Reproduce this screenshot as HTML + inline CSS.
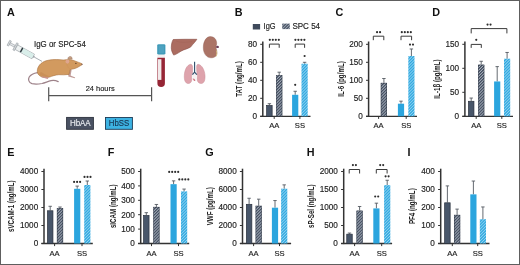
<!DOCTYPE html><html><head><meta charset="utf-8"><style>html,body{margin:0;padding:0;background:#fff;}body{width:520px;height:265px;overflow:hidden;font-family:"Liberation Sans",sans-serif;}svg{display:block;will-change:transform;}</style></head><body><svg width="520" height="265" viewBox="0 0 520 265" font-family="Liberation Sans, sans-serif">
<defs><pattern id="hd" width="2.1" height="2.1" patternUnits="userSpaceOnUse" patternTransform="rotate(45)"><rect width="2.1" height="2.1" fill="#b2bac6"/><rect width="1.25" height="2.1" fill="#3f4a5c"/></pattern><pattern id="hb" width="2.1" height="2.1" patternUnits="userSpaceOnUse" patternTransform="rotate(45)"><rect width="2.1" height="2.1" fill="#9ad8f4"/><rect width="1.25" height="2.1" fill="#2ba5de"/></pattern></defs>
<rect x="0" y="0" width="520" height="265" fill="#fff"/>
<text x="7" y="15.6" font-size="10.8" text-anchor="start" font-weight="bold" fill="#111" >A</text>
<text x="34" y="46.8" font-size="8.4" text-anchor="start" font-weight="normal" fill="#222" stroke="#222" stroke-width="0.15" textLength="51.8" lengthAdjust="spacingAndGlyphs" >IgG or SPC-54</text>
<path d="M48.7 87.3V101.2M48.7 95.6H151.6M151.6 87.3V101.2" fill="none" stroke="#555" stroke-width="1.2"/>
<text x="85.7" y="91" font-size="8.0" text-anchor="start" font-weight="normal" fill="#222" stroke="#222" stroke-width="0.15" textLength="29" lengthAdjust="spacingAndGlyphs" >24 hours</text>
<rect x="66.6" y="117.4" width="26.8" height="11.9" fill="#4a5263" stroke="#2c323d" stroke-width="0.9"/>
<text x="80.3" y="126.2" font-size="8.3" text-anchor="middle" font-weight="normal" fill="#e8ebf0" stroke="#e8ebf0" stroke-width="0.15" textLength="20.8" lengthAdjust="spacingAndGlyphs" >HbAA</text>
<rect x="105.5" y="117.5" width="26.9" height="11.8" fill="#3db3e3" stroke="#1b3a55" stroke-width="0.9"/>
<text x="119" y="126.2" font-size="8.3" text-anchor="middle" font-weight="normal" fill="#173552" stroke="#173552" stroke-width="0.15" textLength="20.4" lengthAdjust="spacingAndGlyphs" >HbSS</text>
<g transform="translate(9.2 43.2) rotate(29)"><rect x="-0.9" y="-2.8" width="1.8" height="5.6" fill="#d5d9dc" stroke="#8d949a" stroke-width="0.5"/><rect x="0.9" y="-1" width="5.6" height="2" fill="#e4e7e9" stroke="#8d949a" stroke-width="0.5"/><rect x="6.4" y="-4" width="1.8" height="8" fill="#d5d9dc" stroke="#8d949a" stroke-width="0.5"/><rect x="8.2" y="-2.6" width="19.2" height="5.2" fill="#eef2f2" stroke="#8d949a" stroke-width="0.55"/><rect x="14.8" y="-2.3" width="12.3" height="4.6" fill="#d9eeea"/><rect x="13.4" y="-2.4" width="1.5" height="4.8" fill="#2f3b41"/><path d="M27.4 -1.3 L29 -0.6 V0.6 L27.4 1.3 Z" fill="#9aa1a7"/><line x1="29" y1="0" x2="37.5" y2="0" stroke="#7d868e" stroke-width="0.6"/></g>
<g><path d="M37.6 72.6 C35 73 31 74.2 29.2 77 C27.8 79.5 28.8 82.6 32 83.7 C35 84.4 39 84.1 42 83.5 C45 82.8 48 81.4 51 80.7 C53.5 80.2 56 80.6 58.2 81.6" fill="none" stroke="#9e838a" stroke-width="1.25" stroke-linecap="round"/><path d="M70 69 L68.4 74 L68.3 76.6 L74.8 78.3 L75.2 77.4 L70.6 75.6 L71.6 70 Z" fill="#c09c98"/><path d="M37.3 71.2 C37.3 66.5 40.8 62.4 46 60.8 C50 59.6 55 59.4 60 59.7 C62.5 59.9 64.5 60.1 66.2 59.8 C69 59.3 72 59.6 75 61 C77.5 62 80 62.8 82 63.7 C82.4 64.5 81.6 65.3 80.2 65.8 C78.6 66.8 77 67.8 75.5 68.3 C73.6 68.9 71.6 69.3 70.2 69.6 C69.6 71.5 69.4 73 69 74.4 C65.5 74.8 62 75 58.8 74.7 C55.2 75 52.2 76 49.6 77.1 C46.2 78 42.4 77.6 40.2 76.1 C38.2 74.8 37.3 73.2 37.3 71.2 Z" fill="#d29a5f" stroke="#a9723f" stroke-width="0.6"/><path d="M39.5 74.5 C42 76.8 46 77.2 49.6 76.6 C47 75 44 74 41 72 C40 72.5 39.6 73.4 39.5 74.5 Z" fill="#c58a52" opacity="0.6"/><path d="M42 76.2 L41.6 77.2 L47.6 78.9 L48.8 77.6 Z" fill="#c8928a"/><path d="M66.2 59.8 C66.5 64 67.2 67 70.2 69.6" fill="none" stroke="#c48a54" stroke-width="0.4" opacity="0.7"/><path d="M67.9 59 C67.8 57.3 69 56.4 70.3 56.5 C71.6 56.6 72.3 57.6 72.1 59 Z" fill="#c79f82" stroke="#9a7a66" stroke-width="0.5"/><ellipse cx="67.4" cy="61.6" rx="1.9" ry="2.1" fill="#e3aa9d" opacity="0.75"/><circle cx="75.9" cy="63.3" r="0.65" fill="#4a2a18"/><circle cx="82" cy="64.4" r="0.6" fill="#7a6060"/></g>
<g><rect x="157.2" y="44.2" width="8.2" height="10.5" rx="1.4" fill="#3f9ab8"/><rect x="158.6" y="45.6" width="5.4" height="7.6" rx="1" fill="#58a9c4" opacity="0.6"/><rect x="157.4" y="54.7" width="7.6" height="3" fill="#f3f1f1"/><path d="M157.4 57.7 H164.9 V83.3 A3.75 3.75 0 0 1 157.4 83.3 Z" fill="#962636"/><path d="M157.9 59.2 H161.4 V79.9 H157.9 Z" fill="#f1eaea"/><path d="M157.5 59.2 V80" stroke="#c98a92" stroke-width="0.6"/></g>
<path d="M173.2 39.5 C181 39.3 189 39.2 196.9 39.3 C195.5 41.5 193.8 43.4 192.4 44.8 C191.6 45.8 191.1 46.6 190.4 47.2 C188.2 48.4 185.8 49.2 183.6 49.9 C181.6 50.7 180.1 51.7 178.8 52.6 C177.1 53.7 175.4 54.6 173.7 55.1 C172.2 52.6 171.2 50 171.3 47.4 C171.4 44.2 172 41.5 173.2 39.5 Z" fill="#ab6c60" stroke="#864a41" stroke-width="0.6"/>
<path d="M176 41 C180 43 186 42.5 192 41.5" stroke="#9a5a4e" stroke-width="0.4" fill="none" opacity="0.6"/>
<path d="M210.3 36.6 C214.3 36.6 216.7 39.6 216.7 43.4 C216.7 45 216 45.9 216 47.1 C216 48.6 217 50.2 217 53 C217 56.1 214.5 57.8 211 57.8 C206.6 57.8 203.3 53.6 203.3 47.6 C203.3 41.2 206.4 36.6 210.3 36.6 Z" fill="#ab7466" stroke="#8f5c50" stroke-width="0.4"/>
<ellipse cx="217.5" cy="46.9" rx="1.4" ry="1.2" fill="#6b3d57"/>
<path d="M216.4 50.5 C216.9 52.5 216.7 55 216.1 56.5" stroke="#d9c485" stroke-width="0.8" fill="none"/>
<path d="M190.6 64.3 C186.8 65 184.6 70 184.3 75.5 C184.1 80 185.3 83.4 188 83.5 C190.3 83.6 191.6 82 191.8 79.5 C191.2 77.5 191.5 75.5 192.4 74 L192.6 67.5 C192.6 65.5 191.8 64.2 190.6 64.3 Z" fill="#dea3ac" stroke="#cb8d97" stroke-width="0.5"/>
<path d="M198.2 64.3 C202 65 204.6 70 205 75.5 C205.3 80 204.1 83.4 201.4 83.5 C199 83.6 197.4 82 197.2 79.5 L196.6 67.5 C196.6 65.5 197 64.2 198.2 64.3 Z" fill="#dea3ac" stroke="#cb8d97" stroke-width="0.5"/>
<path d="M191.8 74.5 C192.2 78 193.2 80.8 195 81.2 C196.5 81.5 197.3 78.5 197.2 75.5 C196 73.5 194 73 191.8 74.5 Z" fill="#f7f3f3"/>
<path d="M192.6 78.5 C193.2 80.3 194.2 81.3 195.2 81 C195.4 79.8 194.6 78.4 192.6 78.5 Z" fill="#cf7a86"/>
<path d="M194.6 61.8 V72.2 M194.6 72.2 L192.4 74.6 M194.6 72.2 L196.8 74.6" stroke="#2f4d6a" stroke-width="1.1" fill="none"/>
<rect x="252.8" y="24" width="7.3" height="5.5" fill="#3f4a5c"/>
<text x="263.6" y="29" font-size="8.2" text-anchor="start" font-weight="normal" fill="#222" stroke="#222" stroke-width="0.15" textLength="12" lengthAdjust="spacingAndGlyphs" >IgG</text>
<rect x="282.2" y="23.6" width="7.6" height="5.5" fill="url(#hd)"/>
<text x="292.4" y="28.9" font-size="8.4" text-anchor="start" font-weight="normal" fill="#222" stroke="#222" stroke-width="0.15" textLength="27.7" lengthAdjust="spacingAndGlyphs" >SPC 54</text>
<line x1="262.8" y1="41.5" x2="262.8" y2="116.9" stroke="#333333" stroke-width="1.5"/>
<line x1="260.2" y1="116.3" x2="310.5" y2="116.3" stroke="#333333" stroke-width="1.3"/>
<line x1="260.2" y1="116.3" x2="262.8" y2="116.3" stroke="#333333" stroke-width="1"/>
<text x="257" y="119.2" font-size="8.2" text-anchor="end" font-weight="normal" fill="#222" stroke="#222" stroke-width="0.15" >0</text>
<line x1="260.2" y1="98.3" x2="262.8" y2="98.3" stroke="#333333" stroke-width="1"/>
<text x="257" y="101.2" font-size="8.2" text-anchor="end" font-weight="normal" fill="#222" stroke="#222" stroke-width="0.15" >20</text>
<line x1="260.2" y1="80.3" x2="262.8" y2="80.3" stroke="#333333" stroke-width="1"/>
<text x="257" y="83.2" font-size="8.2" text-anchor="end" font-weight="normal" fill="#222" stroke="#222" stroke-width="0.15" >40</text>
<line x1="260.2" y1="62.3" x2="262.8" y2="62.3" stroke="#333333" stroke-width="1"/>
<text x="257" y="65.2" font-size="8.2" text-anchor="end" font-weight="normal" fill="#222" stroke="#222" stroke-width="0.15" >60</text>
<line x1="260.2" y1="44.3" x2="262.8" y2="44.3" stroke="#333333" stroke-width="1"/>
<text x="257" y="47.2" font-size="8.2" text-anchor="end" font-weight="normal" fill="#222" stroke="#222" stroke-width="0.15" >80</text>
<line x1="274.2" y1="116.3" x2="274.2" y2="118.9" stroke="#333333" stroke-width="1"/>
<text x="274.2" y="128.4" font-size="7.6" text-anchor="middle" font-weight="normal" fill="#222" stroke="#222" stroke-width="0.15" >AA</text>
<line x1="299.9" y1="116.3" x2="299.9" y2="118.9" stroke="#333333" stroke-width="1"/>
<text x="299.9" y="128.4" font-size="7.6" text-anchor="middle" font-weight="normal" fill="#222" stroke="#222" stroke-width="0.15" >SS</text>
<line x1="269.4" y1="103.7" x2="269.4" y2="105.14" stroke="#555a62" stroke-width="0.9"/>
<line x1="267.7" y1="103.7" x2="271.1" y2="103.7" stroke="#555a62" stroke-width="0.9"/>
<rect x="266.65" y="105.49" width="5.5" height="10.81" fill="#48566a" stroke="#2a313d" stroke-width="0.7"/>
<line x1="279.2" y1="72.2" x2="279.2" y2="75.17" stroke="#555a62" stroke-width="0.9"/>
<line x1="277.5" y1="72.2" x2="280.9" y2="72.2" stroke="#555a62" stroke-width="0.9"/>
<rect x="276.1" y="75.17" width="6.2" height="41.13" fill="url(#hd)"/>
<rect x="276.4" y="75.47" width="5.6" height="40.83" fill="none" stroke="#2a313d" stroke-width="0.6" opacity="0.7"/>
<line x1="295.2" y1="91.28" x2="295.2" y2="94.79" stroke="#555a62" stroke-width="0.9"/>
<line x1="293.5" y1="91.28" x2="296.9" y2="91.28" stroke="#555a62" stroke-width="0.9"/>
<rect x="292.1" y="94.79" width="6.2" height="21.51" fill="#2ba5de"/>
<line x1="304.6" y1="62.3" x2="304.6" y2="63.74" stroke="#555a62" stroke-width="0.9"/>
<line x1="302.9" y1="62.3" x2="306.3" y2="62.3" stroke="#555a62" stroke-width="0.9"/>
<rect x="301.5" y="63.74" width="6.2" height="52.56" fill="url(#hb)"/>
<path d="M269.4 47.8V44.1H279.2V47.8" fill="none" stroke="#3a3a3a" stroke-width="1"/>
<circle cx="269.8" cy="39.8" r="1.08" fill="#2e2e2e"/>
<circle cx="272.8" cy="39.8" r="1.08" fill="#2e2e2e"/>
<circle cx="275.8" cy="39.8" r="1.08" fill="#2e2e2e"/>
<circle cx="278.8" cy="39.8" r="1.08" fill="#2e2e2e"/>
<path d="M295.2 47.8V44.1H304.6V47.8" fill="none" stroke="#3a3a3a" stroke-width="1"/>
<circle cx="295.4" cy="39.8" r="1.08" fill="#2e2e2e"/>
<circle cx="298.4" cy="39.8" r="1.08" fill="#2e2e2e"/>
<circle cx="301.4" cy="39.8" r="1.08" fill="#2e2e2e"/>
<circle cx="304.4" cy="39.8" r="1.08" fill="#2e2e2e"/>
<circle cx="295.2" cy="84.8" r="1.08" fill="#2e2e2e"/>
<circle cx="304.6" cy="56" r="1.08" fill="#2e2e2e"/>
<text x="0" y="0" font-size="8.3" font-weight="bold" fill="#222" text-anchor="middle" textLength="35.59" lengthAdjust="spacingAndGlyphs" transform="translate(241.8 79) rotate(-90)">TAT (ng/mL)</text>
<text x="234.8" y="15.7" font-size="10.8" text-anchor="start" font-weight="bold" fill="#111" >B</text>
<line x1="368.6" y1="41.5" x2="368.6" y2="116.9" stroke="#333333" stroke-width="1.5"/>
<line x1="366" y1="116.3" x2="417" y2="116.3" stroke="#333333" stroke-width="1.3"/>
<line x1="366" y1="116.3" x2="368.6" y2="116.3" stroke="#333333" stroke-width="1"/>
<text x="362.8" y="119.2" font-size="8.2" text-anchor="end" font-weight="normal" fill="#222" stroke="#222" stroke-width="0.15" >0</text>
<line x1="366" y1="98.3" x2="368.6" y2="98.3" stroke="#333333" stroke-width="1"/>
<text x="362.8" y="101.2" font-size="8.2" text-anchor="end" font-weight="normal" fill="#222" stroke="#222" stroke-width="0.15" >50</text>
<line x1="366" y1="80.3" x2="368.6" y2="80.3" stroke="#333333" stroke-width="1"/>
<text x="362.8" y="83.2" font-size="8.2" text-anchor="end" font-weight="normal" fill="#222" stroke="#222" stroke-width="0.15" >100</text>
<line x1="366" y1="62.3" x2="368.6" y2="62.3" stroke="#333333" stroke-width="1"/>
<text x="362.8" y="65.2" font-size="8.2" text-anchor="end" font-weight="normal" fill="#222" stroke="#222" stroke-width="0.15" >150</text>
<line x1="366" y1="44.3" x2="368.6" y2="44.3" stroke="#333333" stroke-width="1"/>
<text x="362.8" y="47.2" font-size="8.2" text-anchor="end" font-weight="normal" fill="#222" stroke="#222" stroke-width="0.15" >200</text>
<line x1="378.6" y1="116.3" x2="378.6" y2="118.9" stroke="#333333" stroke-width="1"/>
<text x="378.6" y="128.4" font-size="7.6" text-anchor="middle" font-weight="normal" fill="#222" stroke="#222" stroke-width="0.15" >AA</text>
<line x1="406.2" y1="116.3" x2="406.2" y2="118.9" stroke="#333333" stroke-width="1"/>
<text x="406.2" y="128.4" font-size="7.6" text-anchor="middle" font-weight="normal" fill="#222" stroke="#222" stroke-width="0.15" >SS</text>
<line x1="383.9" y1="78.5" x2="383.9" y2="82.89" stroke="#555a62" stroke-width="0.9"/>
<line x1="382.2" y1="78.5" x2="385.6" y2="78.5" stroke="#555a62" stroke-width="0.9"/>
<rect x="380.8" y="82.89" width="6.2" height="33.41" fill="url(#hd)"/>
<rect x="381.1" y="83.19" width="5.6" height="33.11" fill="none" stroke="#2a313d" stroke-width="0.6" opacity="0.7"/>
<line x1="401" y1="101.18" x2="401" y2="103.7" stroke="#555a62" stroke-width="0.9"/>
<line x1="399.3" y1="101.18" x2="402.7" y2="101.18" stroke="#555a62" stroke-width="0.9"/>
<rect x="397.9" y="103.7" width="6.2" height="12.6" fill="#2ba5de"/>
<line x1="411.4" y1="48.98" x2="411.4" y2="56" stroke="#555a62" stroke-width="0.9"/>
<line x1="409.7" y1="48.98" x2="413.1" y2="48.98" stroke="#555a62" stroke-width="0.9"/>
<rect x="408.3" y="56" width="6.2" height="60.3" fill="url(#hb)"/>
<path d="M373.3 40.2V36.2H383.8V40.2" fill="none" stroke="#3a3a3a" stroke-width="1"/>
<circle cx="377.05" cy="32.2" r="1.08" fill="#2e2e2e"/>
<circle cx="380.05" cy="32.2" r="1.08" fill="#2e2e2e"/>
<path d="M401 40.2V36.2H411.6V40.2" fill="none" stroke="#3a3a3a" stroke-width="1"/>
<circle cx="401.8" cy="32.2" r="1.08" fill="#2e2e2e"/>
<circle cx="404.8" cy="32.2" r="1.08" fill="#2e2e2e"/>
<circle cx="407.8" cy="32.2" r="1.08" fill="#2e2e2e"/>
<circle cx="410.8" cy="32.2" r="1.08" fill="#2e2e2e"/>
<circle cx="410" cy="44.6" r="1.08" fill="#2e2e2e"/>
<circle cx="413" cy="44.6" r="1.08" fill="#2e2e2e"/>
<text x="0" y="0" font-size="8.3" font-weight="bold" fill="#222" text-anchor="middle" textLength="35.48" lengthAdjust="spacingAndGlyphs" transform="translate(343.5 79) rotate(-90)">IL-6 (pg/mL)</text>
<text x="335.5" y="15.7" font-size="10.8" text-anchor="start" font-weight="bold" fill="#111" >C</text>
<line x1="464.9" y1="41.5" x2="464.9" y2="116.9" stroke="#333333" stroke-width="1.5"/>
<line x1="462.3" y1="116.3" x2="513" y2="116.3" stroke="#333333" stroke-width="1.3"/>
<line x1="462.3" y1="116.3" x2="464.9" y2="116.3" stroke="#333333" stroke-width="1"/>
<text x="459.1" y="119.2" font-size="8.2" text-anchor="end" font-weight="normal" fill="#222" stroke="#222" stroke-width="0.15" >0</text>
<line x1="462.3" y1="92.3" x2="464.9" y2="92.3" stroke="#333333" stroke-width="1"/>
<text x="459.1" y="95.2" font-size="8.2" text-anchor="end" font-weight="normal" fill="#222" stroke="#222" stroke-width="0.15" >50</text>
<line x1="462.3" y1="68.3" x2="464.9" y2="68.3" stroke="#333333" stroke-width="1"/>
<text x="459.1" y="71.2" font-size="8.2" text-anchor="end" font-weight="normal" fill="#222" stroke="#222" stroke-width="0.15" >100</text>
<line x1="462.3" y1="44.3" x2="464.9" y2="44.3" stroke="#333333" stroke-width="1"/>
<text x="459.1" y="47.2" font-size="8.2" text-anchor="end" font-weight="normal" fill="#222" stroke="#222" stroke-width="0.15" >150</text>
<line x1="476.2" y1="116.3" x2="476.2" y2="118.9" stroke="#333333" stroke-width="1"/>
<text x="476.2" y="128.4" font-size="7.6" text-anchor="middle" font-weight="normal" fill="#222" stroke="#222" stroke-width="0.15" >AA</text>
<line x1="501.8" y1="116.3" x2="501.8" y2="118.9" stroke="#333333" stroke-width="1"/>
<text x="501.8" y="128.4" font-size="7.6" text-anchor="middle" font-weight="normal" fill="#222" stroke="#222" stroke-width="0.15" >SS</text>
<line x1="471.2" y1="98.06" x2="471.2" y2="100.94" stroke="#555a62" stroke-width="0.9"/>
<line x1="469.5" y1="98.06" x2="472.9" y2="98.06" stroke="#555a62" stroke-width="0.9"/>
<rect x="468.45" y="101.29" width="5.5" height="15.01" fill="#48566a" stroke="#2a313d" stroke-width="0.7"/>
<line x1="481.2" y1="61.29" x2="481.2" y2="64.7" stroke="#555a62" stroke-width="0.9"/>
<line x1="479.5" y1="61.29" x2="482.9" y2="61.29" stroke="#555a62" stroke-width="0.9"/>
<rect x="478.1" y="64.7" width="6.2" height="51.6" fill="url(#hd)"/>
<rect x="478.4" y="65" width="5.6" height="51.3" fill="none" stroke="#2a313d" stroke-width="0.6" opacity="0.7"/>
<line x1="497.2" y1="66.62" x2="497.2" y2="81.45" stroke="#555a62" stroke-width="0.9"/>
<line x1="495.5" y1="66.62" x2="498.9" y2="66.62" stroke="#555a62" stroke-width="0.9"/>
<rect x="494.1" y="81.45" width="6.2" height="34.85" fill="#2ba5de"/>
<line x1="507.1" y1="52.46" x2="507.1" y2="58.7" stroke="#555a62" stroke-width="0.9"/>
<line x1="505.4" y1="52.46" x2="508.8" y2="52.46" stroke="#555a62" stroke-width="0.9"/>
<rect x="504" y="58.7" width="6.2" height="57.6" fill="url(#hb)"/>
<path d="M471.2 47.9V44.4H481.3V47.9" fill="none" stroke="#3a3a3a" stroke-width="1"/>
<circle cx="476.25" cy="39.8" r="1.08" fill="#2e2e2e"/>
<path d="M471.2 33.4V28.6H506.9V33.4" fill="none" stroke="#3a3a3a" stroke-width="1"/>
<circle cx="487.55" cy="24.6" r="1.08" fill="#2e2e2e"/>
<circle cx="490.55" cy="24.6" r="1.08" fill="#2e2e2e"/>
<text x="0" y="0" font-size="8.3" font-weight="bold" fill="#222" text-anchor="middle" textLength="39.26" lengthAdjust="spacingAndGlyphs" transform="translate(439.7 79) rotate(-90)">IL-1β (pg/mL)</text>
<text x="432.2" y="15.7" font-size="10.8" text-anchor="start" font-weight="bold" fill="#111" >D</text>
<line x1="44" y1="168.7" x2="44" y2="244.1" stroke="#333333" stroke-width="1.5"/>
<line x1="41.4" y1="243.5" x2="92.8" y2="243.5" stroke="#333333" stroke-width="1.3"/>
<line x1="41.4" y1="243.5" x2="44" y2="243.5" stroke="#333333" stroke-width="1"/>
<text x="38.2" y="246.4" font-size="8.2" text-anchor="end" font-weight="normal" fill="#222" stroke="#222" stroke-width="0.15" >0</text>
<line x1="41.4" y1="225.5" x2="44" y2="225.5" stroke="#333333" stroke-width="1"/>
<text x="38.2" y="228.4" font-size="8.2" text-anchor="end" font-weight="normal" fill="#222" stroke="#222" stroke-width="0.15" >1000</text>
<line x1="41.4" y1="207.5" x2="44" y2="207.5" stroke="#333333" stroke-width="1"/>
<text x="38.2" y="210.4" font-size="8.2" text-anchor="end" font-weight="normal" fill="#222" stroke="#222" stroke-width="0.15" >2000</text>
<line x1="41.4" y1="189.5" x2="44" y2="189.5" stroke="#333333" stroke-width="1"/>
<text x="38.2" y="192.4" font-size="8.2" text-anchor="end" font-weight="normal" fill="#222" stroke="#222" stroke-width="0.15" >3000</text>
<line x1="41.4" y1="171.5" x2="44" y2="171.5" stroke="#333333" stroke-width="1"/>
<text x="38.2" y="174.4" font-size="8.2" text-anchor="end" font-weight="normal" fill="#222" stroke="#222" stroke-width="0.15" >4000</text>
<line x1="54.6" y1="243.5" x2="54.6" y2="246.1" stroke="#333333" stroke-width="1"/>
<text x="54.6" y="255.6" font-size="7.6" text-anchor="middle" font-weight="normal" fill="#222" stroke="#222" stroke-width="0.15" >AA</text>
<line x1="82" y1="243.5" x2="82" y2="246.1" stroke="#333333" stroke-width="1"/>
<text x="82" y="255.6" font-size="7.6" text-anchor="middle" font-weight="normal" fill="#222" stroke="#222" stroke-width="0.15" >SS</text>
<line x1="50.2" y1="206.29" x2="50.2" y2="210.42" stroke="#555a62" stroke-width="0.9"/>
<line x1="48.5" y1="206.29" x2="51.9" y2="206.29" stroke="#555a62" stroke-width="0.9"/>
<rect x="47.45" y="210.77" width="5.5" height="32.73" fill="#48566a" stroke="#2a313d" stroke-width="0.7"/>
<line x1="60" y1="207" x2="60" y2="208.09" stroke="#555a62" stroke-width="0.9"/>
<line x1="58.3" y1="207" x2="61.7" y2="207" stroke="#555a62" stroke-width="0.9"/>
<rect x="56.9" y="208.09" width="6.2" height="35.41" fill="url(#hd)"/>
<rect x="57.2" y="208.39" width="5.6" height="35.11" fill="none" stroke="#2a313d" stroke-width="0.6" opacity="0.7"/>
<line x1="77.2" y1="186.1" x2="77.2" y2="188.8" stroke="#555a62" stroke-width="0.9"/>
<line x1="75.5" y1="186.1" x2="78.9" y2="186.1" stroke="#555a62" stroke-width="0.9"/>
<rect x="74.1" y="188.8" width="6.2" height="54.7" fill="#2ba5de"/>
<line x1="87.3" y1="181" x2="87.3" y2="185" stroke="#555a62" stroke-width="0.9"/>
<line x1="85.6" y1="181" x2="89" y2="181" stroke="#555a62" stroke-width="0.9"/>
<rect x="84.2" y="185" width="6.2" height="58.5" fill="url(#hb)"/>
<circle cx="74.1" cy="181.9" r="1.08" fill="#2e2e2e"/>
<circle cx="77.1" cy="181.9" r="1.08" fill="#2e2e2e"/>
<circle cx="80.1" cy="181.9" r="1.08" fill="#2e2e2e"/>
<circle cx="84.5" cy="176.9" r="1.08" fill="#2e2e2e"/>
<circle cx="87.5" cy="176.9" r="1.08" fill="#2e2e2e"/>
<circle cx="90.5" cy="176.9" r="1.08" fill="#2e2e2e"/>
<text x="0" y="0" font-size="8.3" font-weight="bold" fill="#222" text-anchor="middle" textLength="51.67" lengthAdjust="spacingAndGlyphs" transform="translate(14.3 206.2) rotate(-90)">sVCAM-1 (ng/mL)</text>
<text x="7.2" y="156.1" font-size="10.8" text-anchor="start" font-weight="bold" fill="#111" >E</text>
<line x1="140.7" y1="168.7" x2="140.7" y2="244.1" stroke="#333333" stroke-width="1.5"/>
<line x1="138.1" y1="243.5" x2="189.2" y2="243.5" stroke="#333333" stroke-width="1.3"/>
<line x1="138.1" y1="243.5" x2="140.7" y2="243.5" stroke="#333333" stroke-width="1"/>
<text x="134.9" y="246.4" font-size="8.2" text-anchor="end" font-weight="normal" fill="#222" stroke="#222" stroke-width="0.15" >0</text>
<line x1="138.1" y1="229.1" x2="140.7" y2="229.1" stroke="#333333" stroke-width="1"/>
<text x="134.9" y="232" font-size="8.2" text-anchor="end" font-weight="normal" fill="#222" stroke="#222" stroke-width="0.15" >100</text>
<line x1="138.1" y1="214.7" x2="140.7" y2="214.7" stroke="#333333" stroke-width="1"/>
<text x="134.9" y="217.6" font-size="8.2" text-anchor="end" font-weight="normal" fill="#222" stroke="#222" stroke-width="0.15" >200</text>
<line x1="138.1" y1="200.3" x2="140.7" y2="200.3" stroke="#333333" stroke-width="1"/>
<text x="134.9" y="203.2" font-size="8.2" text-anchor="end" font-weight="normal" fill="#222" stroke="#222" stroke-width="0.15" >300</text>
<line x1="138.1" y1="185.9" x2="140.7" y2="185.9" stroke="#333333" stroke-width="1"/>
<text x="134.9" y="188.8" font-size="8.2" text-anchor="end" font-weight="normal" fill="#222" stroke="#222" stroke-width="0.15" >400</text>
<line x1="138.1" y1="171.5" x2="140.7" y2="171.5" stroke="#333333" stroke-width="1"/>
<text x="134.9" y="174.4" font-size="8.2" text-anchor="end" font-weight="normal" fill="#222" stroke="#222" stroke-width="0.15" >500</text>
<line x1="151.5" y1="243.5" x2="151.5" y2="246.1" stroke="#333333" stroke-width="1"/>
<text x="151.5" y="255.6" font-size="7.6" text-anchor="middle" font-weight="normal" fill="#222" stroke="#222" stroke-width="0.15" >AA</text>
<line x1="178.5" y1="243.5" x2="178.5" y2="246.1" stroke="#333333" stroke-width="1"/>
<text x="178.5" y="255.6" font-size="7.6" text-anchor="middle" font-weight="normal" fill="#222" stroke="#222" stroke-width="0.15" >SS</text>
<line x1="146.3" y1="212.68" x2="146.3" y2="215.13" stroke="#555a62" stroke-width="0.9"/>
<line x1="144.6" y1="212.68" x2="148" y2="212.68" stroke="#555a62" stroke-width="0.9"/>
<rect x="143.55" y="215.48" width="5.5" height="28.02" fill="#48566a" stroke="#2a313d" stroke-width="0.7"/>
<line x1="156.4" y1="204.48" x2="156.4" y2="206.92" stroke="#555a62" stroke-width="0.9"/>
<line x1="154.7" y1="204.48" x2="158.1" y2="204.48" stroke="#555a62" stroke-width="0.9"/>
<rect x="153.3" y="206.92" width="6.2" height="36.58" fill="url(#hd)"/>
<rect x="153.6" y="207.22" width="5.6" height="36.28" fill="none" stroke="#2a313d" stroke-width="0.6" opacity="0.7"/>
<line x1="173.6" y1="180.86" x2="173.6" y2="184.17" stroke="#555a62" stroke-width="0.9"/>
<line x1="171.9" y1="180.86" x2="175.3" y2="180.86" stroke="#555a62" stroke-width="0.9"/>
<rect x="170.5" y="184.17" width="6.2" height="59.33" fill="#2ba5de"/>
<line x1="184.1" y1="189.07" x2="184.1" y2="191.37" stroke="#555a62" stroke-width="0.9"/>
<line x1="182.4" y1="189.07" x2="185.8" y2="189.07" stroke="#555a62" stroke-width="0.9"/>
<rect x="181" y="191.37" width="6.2" height="52.13" fill="url(#hb)"/>
<circle cx="169.2" cy="171.9" r="1.08" fill="#2e2e2e"/>
<circle cx="172.2" cy="171.9" r="1.08" fill="#2e2e2e"/>
<circle cx="175.2" cy="171.9" r="1.08" fill="#2e2e2e"/>
<circle cx="178.2" cy="171.9" r="1.08" fill="#2e2e2e"/>
<circle cx="179.3" cy="179.4" r="1.08" fill="#2e2e2e"/>
<circle cx="182.3" cy="179.4" r="1.08" fill="#2e2e2e"/>
<circle cx="185.3" cy="179.4" r="1.08" fill="#2e2e2e"/>
<circle cx="188.3" cy="179.4" r="1.08" fill="#2e2e2e"/>
<text x="0" y="0" font-size="8.3" font-weight="bold" fill="#222" text-anchor="middle" textLength="43.75" lengthAdjust="spacingAndGlyphs" transform="translate(115.9 206.2) rotate(-90)">sICAM (ng/mL)</text>
<text x="107.8" y="156.1" font-size="10.8" text-anchor="start" font-weight="bold" fill="#111" >F</text>
<line x1="242.5" y1="168.7" x2="242.5" y2="244.1" stroke="#333333" stroke-width="1.5"/>
<line x1="239.9" y1="243.5" x2="291.1" y2="243.5" stroke="#333333" stroke-width="1.3"/>
<line x1="239.9" y1="243.5" x2="242.5" y2="243.5" stroke="#333333" stroke-width="1"/>
<text x="236.7" y="246.4" font-size="8.2" text-anchor="end" font-weight="normal" fill="#222" stroke="#222" stroke-width="0.15" >0</text>
<line x1="239.9" y1="225.5" x2="242.5" y2="225.5" stroke="#333333" stroke-width="1"/>
<text x="236.7" y="228.4" font-size="8.2" text-anchor="end" font-weight="normal" fill="#222" stroke="#222" stroke-width="0.15" >2000</text>
<line x1="239.9" y1="207.5" x2="242.5" y2="207.5" stroke="#333333" stroke-width="1"/>
<text x="236.7" y="210.4" font-size="8.2" text-anchor="end" font-weight="normal" fill="#222" stroke="#222" stroke-width="0.15" >4000</text>
<line x1="239.9" y1="189.5" x2="242.5" y2="189.5" stroke="#333333" stroke-width="1"/>
<text x="236.7" y="192.4" font-size="8.2" text-anchor="end" font-weight="normal" fill="#222" stroke="#222" stroke-width="0.15" >6000</text>
<line x1="239.9" y1="171.5" x2="242.5" y2="171.5" stroke="#333333" stroke-width="1"/>
<text x="236.7" y="174.4" font-size="8.2" text-anchor="end" font-weight="normal" fill="#222" stroke="#222" stroke-width="0.15" >8000</text>
<line x1="253.6" y1="243.5" x2="253.6" y2="246.1" stroke="#333333" stroke-width="1"/>
<text x="253.6" y="255.6" font-size="7.6" text-anchor="middle" font-weight="normal" fill="#222" stroke="#222" stroke-width="0.15" >AA</text>
<line x1="279.5" y1="243.5" x2="279.5" y2="246.1" stroke="#333333" stroke-width="1"/>
<text x="279.5" y="255.6" font-size="7.6" text-anchor="middle" font-weight="normal" fill="#222" stroke="#222" stroke-width="0.15" >SS</text>
<line x1="249.1" y1="198.25" x2="249.1" y2="203.98" stroke="#555a62" stroke-width="0.9"/>
<line x1="247.4" y1="198.25" x2="250.8" y2="198.25" stroke="#555a62" stroke-width="0.9"/>
<rect x="246.35" y="204.33" width="5.5" height="39.17" fill="#48566a" stroke="#2a313d" stroke-width="0.7"/>
<line x1="258.7" y1="199.16" x2="258.7" y2="205.79" stroke="#555a62" stroke-width="0.9"/>
<line x1="257" y1="199.16" x2="260.4" y2="199.16" stroke="#555a62" stroke-width="0.9"/>
<rect x="255.6" y="205.79" width="6.2" height="37.71" fill="url(#hd)"/>
<rect x="255.9" y="206.09" width="5.6" height="37.41" fill="none" stroke="#2a313d" stroke-width="0.6" opacity="0.7"/>
<line x1="275" y1="200.56" x2="275" y2="207.7" stroke="#555a62" stroke-width="0.9"/>
<line x1="273.3" y1="200.56" x2="276.7" y2="200.56" stroke="#555a62" stroke-width="0.9"/>
<rect x="271.9" y="207.7" width="6.2" height="35.8" fill="#2ba5de"/>
<line x1="284.2" y1="184.87" x2="284.2" y2="188.7" stroke="#555a62" stroke-width="0.9"/>
<line x1="282.5" y1="184.87" x2="285.9" y2="184.87" stroke="#555a62" stroke-width="0.9"/>
<rect x="281.1" y="188.7" width="6.2" height="54.8" fill="url(#hb)"/>
<text x="0" y="0" font-size="8.3" font-weight="bold" fill="#222" text-anchor="middle" textLength="38.23" lengthAdjust="spacingAndGlyphs" transform="translate(213.1 206.2) rotate(-90)">VWF (pg/mL)</text>
<text x="205.2" y="156.1" font-size="10.8" text-anchor="start" font-weight="bold" fill="#111" >G</text>
<line x1="343.7" y1="168.7" x2="343.7" y2="244.1" stroke="#333333" stroke-width="1.5"/>
<line x1="341.1" y1="243.5" x2="392.1" y2="243.5" stroke="#333333" stroke-width="1.3"/>
<line x1="341.1" y1="243.5" x2="343.7" y2="243.5" stroke="#333333" stroke-width="1"/>
<text x="337.9" y="246.4" font-size="8.2" text-anchor="end" font-weight="normal" fill="#222" stroke="#222" stroke-width="0.15" >0</text>
<line x1="341.1" y1="225.5" x2="343.7" y2="225.5" stroke="#333333" stroke-width="1"/>
<text x="337.9" y="228.4" font-size="8.2" text-anchor="end" font-weight="normal" fill="#222" stroke="#222" stroke-width="0.15" >500</text>
<line x1="341.1" y1="207.5" x2="343.7" y2="207.5" stroke="#333333" stroke-width="1"/>
<text x="337.9" y="210.4" font-size="8.2" text-anchor="end" font-weight="normal" fill="#222" stroke="#222" stroke-width="0.15" >1000</text>
<line x1="341.1" y1="189.5" x2="343.7" y2="189.5" stroke="#333333" stroke-width="1"/>
<text x="337.9" y="192.4" font-size="8.2" text-anchor="end" font-weight="normal" fill="#222" stroke="#222" stroke-width="0.15" >1500</text>
<line x1="341.1" y1="171.5" x2="343.7" y2="171.5" stroke="#333333" stroke-width="1"/>
<text x="337.9" y="174.4" font-size="8.2" text-anchor="end" font-weight="normal" fill="#222" stroke="#222" stroke-width="0.15" >2000</text>
<line x1="354.6" y1="243.5" x2="354.6" y2="246.1" stroke="#333333" stroke-width="1"/>
<text x="354.6" y="255.6" font-size="7.6" text-anchor="middle" font-weight="normal" fill="#222" stroke="#222" stroke-width="0.15" >AA</text>
<line x1="381.7" y1="243.5" x2="381.7" y2="246.1" stroke="#333333" stroke-width="1"/>
<text x="381.7" y="255.6" font-size="7.6" text-anchor="middle" font-weight="normal" fill="#222" stroke="#222" stroke-width="0.15" >SS</text>
<line x1="349.5" y1="233.06" x2="349.5" y2="233.85" stroke="#555a62" stroke-width="0.9"/>
<line x1="347.8" y1="233.06" x2="351.2" y2="233.06" stroke="#555a62" stroke-width="0.9"/>
<rect x="346.75" y="234.2" width="5.5" height="9.3" fill="#48566a" stroke="#2a313d" stroke-width="0.7"/>
<line x1="359.6" y1="206.49" x2="359.6" y2="210.63" stroke="#555a62" stroke-width="0.9"/>
<line x1="357.9" y1="206.49" x2="361.3" y2="206.49" stroke="#555a62" stroke-width="0.9"/>
<rect x="356.5" y="210.63" width="6.2" height="32.87" fill="url(#hd)"/>
<rect x="356.8" y="210.93" width="5.6" height="32.57" fill="none" stroke="#2a313d" stroke-width="0.6" opacity="0.7"/>
<line x1="376.4" y1="203.18" x2="376.4" y2="208.4" stroke="#555a62" stroke-width="0.9"/>
<line x1="374.7" y1="203.18" x2="378.1" y2="203.18" stroke="#555a62" stroke-width="0.9"/>
<rect x="373.3" y="208.4" width="6.2" height="35.1" fill="#2ba5de"/>
<line x1="387.2" y1="180.25" x2="387.2" y2="185.18" stroke="#555a62" stroke-width="0.9"/>
<line x1="385.5" y1="180.25" x2="388.9" y2="180.25" stroke="#555a62" stroke-width="0.9"/>
<rect x="384.1" y="185.18" width="6.2" height="58.32" fill="url(#hb)"/>
<path d="M349.2 173.5V169.5H359.6V173.5" fill="none" stroke="#3a3a3a" stroke-width="1"/>
<circle cx="352.9" cy="165.1" r="1.08" fill="#2e2e2e"/>
<circle cx="355.9" cy="165.1" r="1.08" fill="#2e2e2e"/>
<path d="M376.3 173.5V169.5H387.1V173.5" fill="none" stroke="#3a3a3a" stroke-width="1"/>
<circle cx="380.2" cy="165.1" r="1.08" fill="#2e2e2e"/>
<circle cx="383.2" cy="165.1" r="1.08" fill="#2e2e2e"/>
<circle cx="375.2" cy="196.5" r="1.08" fill="#2e2e2e"/>
<circle cx="378.2" cy="196.5" r="1.08" fill="#2e2e2e"/>
<circle cx="385.6" cy="176.3" r="1.08" fill="#2e2e2e"/>
<circle cx="388.6" cy="176.3" r="1.08" fill="#2e2e2e"/>
<text x="0" y="0" font-size="8.3" font-weight="bold" fill="#222" text-anchor="middle" textLength="43.41" lengthAdjust="spacingAndGlyphs" transform="translate(314.1 206.2) rotate(-90)">sP-Sel (ng/mL)</text>
<text x="306.7" y="156.1" font-size="10.8" text-anchor="start" font-weight="bold" fill="#111" >H</text>
<line x1="440.7" y1="168.7" x2="440.7" y2="244.1" stroke="#333333" stroke-width="1.5"/>
<line x1="438.1" y1="243.5" x2="489.5" y2="243.5" stroke="#333333" stroke-width="1.3"/>
<line x1="438.1" y1="243.5" x2="440.7" y2="243.5" stroke="#333333" stroke-width="1"/>
<text x="434.9" y="246.4" font-size="8.2" text-anchor="end" font-weight="normal" fill="#222" stroke="#222" stroke-width="0.15" >0</text>
<line x1="438.1" y1="225.5" x2="440.7" y2="225.5" stroke="#333333" stroke-width="1"/>
<text x="434.9" y="228.4" font-size="8.2" text-anchor="end" font-weight="normal" fill="#222" stroke="#222" stroke-width="0.15" >100</text>
<line x1="438.1" y1="207.5" x2="440.7" y2="207.5" stroke="#333333" stroke-width="1"/>
<text x="434.9" y="210.4" font-size="8.2" text-anchor="end" font-weight="normal" fill="#222" stroke="#222" stroke-width="0.15" >200</text>
<line x1="438.1" y1="189.5" x2="440.7" y2="189.5" stroke="#333333" stroke-width="1"/>
<text x="434.9" y="192.4" font-size="8.2" text-anchor="end" font-weight="normal" fill="#222" stroke="#222" stroke-width="0.15" >300</text>
<line x1="438.1" y1="171.5" x2="440.7" y2="171.5" stroke="#333333" stroke-width="1"/>
<text x="434.9" y="174.4" font-size="8.2" text-anchor="end" font-weight="normal" fill="#222" stroke="#222" stroke-width="0.15" >400</text>
<line x1="452.3" y1="243.5" x2="452.3" y2="246.1" stroke="#333333" stroke-width="1"/>
<text x="452.3" y="255.6" font-size="7.6" text-anchor="middle" font-weight="normal" fill="#222" stroke="#222" stroke-width="0.15" >AA</text>
<line x1="477.7" y1="243.5" x2="477.7" y2="246.1" stroke="#333333" stroke-width="1"/>
<text x="477.7" y="255.6" font-size="7.6" text-anchor="middle" font-weight="normal" fill="#222" stroke="#222" stroke-width="0.15" >SS</text>
<line x1="447.4" y1="185.9" x2="447.4" y2="202.46" stroke="#555a62" stroke-width="0.9"/>
<line x1="445.7" y1="185.9" x2="449.1" y2="185.9" stroke="#555a62" stroke-width="0.9"/>
<rect x="444.65" y="202.81" width="5.5" height="40.69" fill="#48566a" stroke="#2a313d" stroke-width="0.7"/>
<line x1="457.1" y1="209.12" x2="457.1" y2="214.88" stroke="#555a62" stroke-width="0.9"/>
<line x1="455.4" y1="209.12" x2="458.8" y2="209.12" stroke="#555a62" stroke-width="0.9"/>
<rect x="454" y="214.88" width="6.2" height="28.62" fill="url(#hd)"/>
<rect x="454.3" y="215.18" width="5.6" height="28.32" fill="none" stroke="#2a313d" stroke-width="0.6" opacity="0.7"/>
<line x1="473.4" y1="181.04" x2="473.4" y2="194.36" stroke="#555a62" stroke-width="0.9"/>
<line x1="471.7" y1="181.04" x2="475.1" y2="181.04" stroke="#555a62" stroke-width="0.9"/>
<rect x="470.3" y="194.36" width="6.2" height="49.14" fill="#2ba5de"/>
<line x1="482.9" y1="206.96" x2="482.9" y2="219.2" stroke="#555a62" stroke-width="0.9"/>
<line x1="481.2" y1="206.96" x2="484.6" y2="206.96" stroke="#555a62" stroke-width="0.9"/>
<rect x="479.8" y="219.2" width="6.2" height="24.3" fill="url(#hb)"/>
<text x="0" y="0" font-size="8.3" font-weight="bold" fill="#222" text-anchor="middle" textLength="35.82" lengthAdjust="spacingAndGlyphs" transform="translate(415.2 206.2) rotate(-90)">PF4 (ng/mL)</text>
<text x="407.6" y="156.1" font-size="10.8" text-anchor="start" font-weight="bold" fill="#111" >I</text>
<rect x="0.5" y="0.5" width="519" height="264" fill="none" stroke="#5e5e5e" stroke-width="1"/>
</svg></body></html>
